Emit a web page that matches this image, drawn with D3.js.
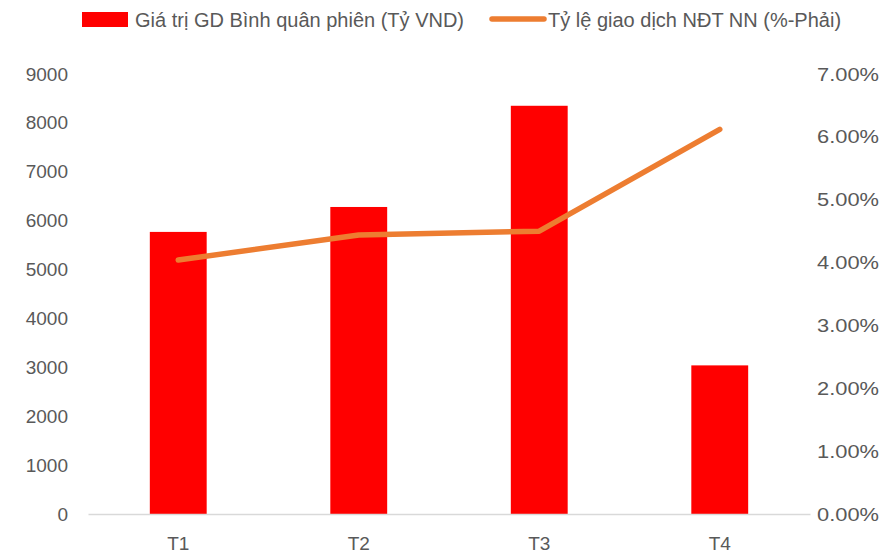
<!DOCTYPE html>
<html><head><meta charset="utf-8">
<script src="https://cdn.jsdelivr.net/npm/d3@7"></script>
<style>
body{margin:0;background:#fff;}
text{font-family:"Liberation Sans Narrow","Arial Narrow","Liberation Sans",sans-serif;fill:#595959;}
</style></head>
<body><svg id="c" width="896" height="556"></svg>
<script>
const categories = ["T1","T2","T3","T4"];
const barValues = [5770, 6280, 8350, 3040];
const lineValues = [0.0404, 0.0444, 0.0450, 0.0612];
const leftTicks = [0,1000,2000,3000,4000,5000,6000,7000,8000,9000];
const rightTicks = [0,0.01,0.02,0.03,0.04,0.05,0.06,0.07];
const seriesNames = ["Giá trị GD Bình quân phiên (Tỷ VND)", "Tỷ lệ giao dịch NĐT NN (%-Phải)"];

const svg = d3.select("#c");
const m = {l:88, r:810, t:74, b:514};
const x = d3.scaleBand().domain(categories).range([m.l, m.r]).paddingInner(0.685).paddingOuter(0.3425);
const yL = d3.scaleLinear().domain([0,9000]).range([m.b, m.t]);
const yR = d3.scaleLinear().domain([0,0.07]).range([m.b, m.t]);

// bars
svg.append("g").selectAll("rect").data(barValues).join("rect")
  .attr("x",(d,i)=>x(categories[i])).attr("width",x.bandwidth())
  .attr("y",d=>yL(d)).attr("height",d=>yL(0)-yL(d)).attr("fill","#FF0000");

// baseline
const axB = svg.append("g").attr("transform",`translate(0,${m.b})`)
  .call(d3.axisBottom(x).tickSize(0).tickPadding(23));
axB.select(".domain").attr("stroke","#D9D9D9").attr("stroke-width",1.5);
axB.selectAll("text").attr("font-size",19);

// left axis
const axL = svg.append("g").attr("transform",`translate(68,0)`)
  .call(d3.axisLeft(yL).tickValues(leftTicks).tickSize(0).tickPadding(0).tickFormat(d3.format("d")));
axL.select(".domain").remove();
axL.selectAll("text").attr("font-size",19);

// right axis
const axR = svg.append("g").attr("transform",`translate(817,0)`)
  .call(d3.axisRight(yR).tickValues(rightTicks).tickSize(0).tickPadding(0).tickFormat(d3.format(".2%")));
axR.select(".domain").remove();
axR.selectAll("text").attr("font-size",19).attr("textLength",62).attr("lengthAdjust","spacingAndGlyphs");

// line
const line = d3.line().x((d,i)=>x(categories[i])+x.bandwidth()/2).y(d=>yR(d));
svg.append("path").datum(lineValues).attr("d",line)
  .attr("fill","none").attr("stroke","#ED7D31").attr("stroke-width",5.5)
  .attr("stroke-linecap","round").attr("stroke-linejoin","round");

// legend
const lg = svg.append("g");
lg.append("rect").attr("x",82).attr("y",12).attr("width",46).attr("height",15).attr("fill","#FF0000");
lg.append("text").attr("x",135).attr("y",27).attr("font-size",20).text(seriesNames[0]);
lg.append("line").attr("x1",492).attr("x2",544).attr("y1",19).attr("y2",19)
  .attr("stroke","#ED7D31").attr("stroke-width",5.5).attr("stroke-linecap","round");
lg.append("text").attr("x",548).attr("y",27).attr("font-size",20).text(seriesNames[1]);
</script></body></html>
